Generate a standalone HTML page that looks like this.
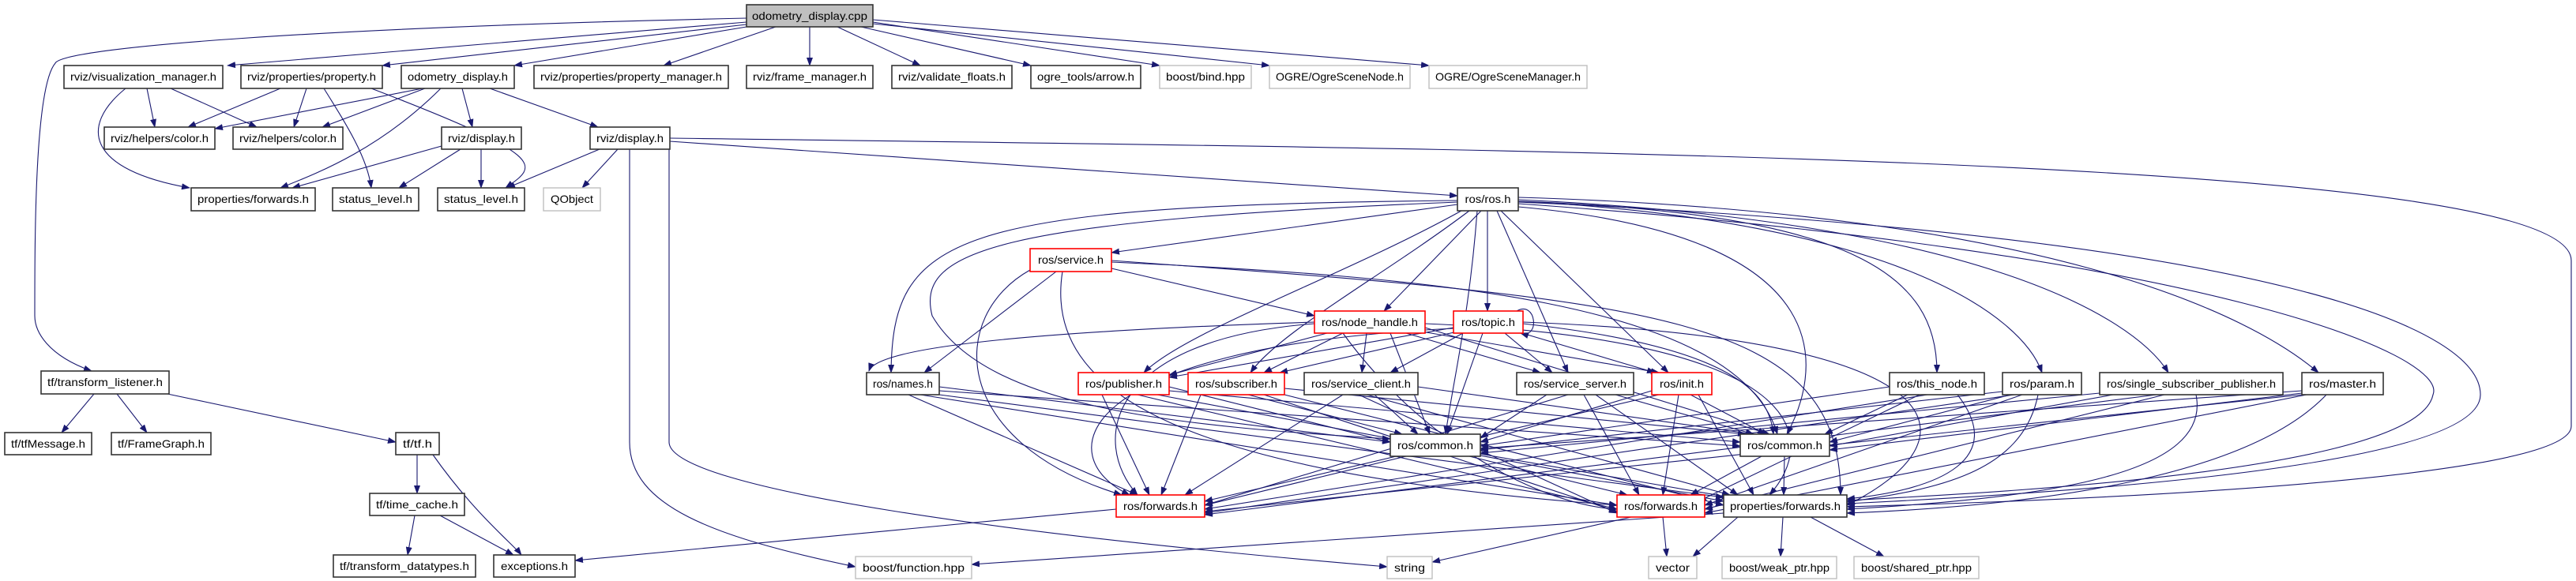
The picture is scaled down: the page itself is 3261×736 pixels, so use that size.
<!DOCTYPE html>
<html><head><meta charset="utf-8"><style>
html,body{margin:0;padding:0;background:#fff;width:3261px;height:736px;overflow:hidden}
svg{display:block}
text{font-family:"Liberation Sans",sans-serif;font-size:14px;fill:#000}
.e{fill:none;stroke:#191970;stroke-width:1.1}
.n{fill:#fff;stroke:#333;stroke-width:1.6}
.r{fill:#fff;stroke:#ff0000;stroke-width:1.6}
.g{fill:#fff;stroke:#bfbfbf;stroke-width:1.4}
</style></head><body>
<svg width="3261" height="736" viewBox="0 0 3261 736" xmlns="http://www.w3.org/2000/svg">
<defs><marker id="a" markerWidth="11" markerHeight="8" refX="10" refY="4" orient="auto" markerUnits="userSpaceOnUse"><path d="M0,0 L11,4 L0,8 z" fill="#191970"/></marker></defs>
<g class="e" marker-end="url(#a)">
<path d="M945 28 L288 83"/><path d="M945 31 L484 83"/><path d="M945 34 L651 83"/><path d="M982 34 L840 83"/><path d="M1025 34 L1025 83"/><path d="M1060 34 L1165 83"/><path d="M1090 34 L1305 83"/><path d="M1105 28 L1468 83"/><path d="M1105 30 L1607 83"/><path d="M1105 25 L1809 83"/>
<path d="M945 23 C400 35 80 60 70 80 C44 110 44 300 44 400 C44 420 60 450 116 470"/>
<path d="M186 112 L196 161"/><path d="M216 112 L325 161"/><path d="M159 112 C100 160 110 215 240 238"/>
<path d="M355 112 L238 161"/><path d="M388 112 L372 161"/><path d="M410 112 C440 160 465 200 470 238"/><path d="M470 112 C700 200 680 210 640 238"/>
<path d="M535 112 L272 163"/><path d="M538 112 L408 161"/><path d="M558 112 C480 190 400 220 355 238"/><path d="M585 112 L598 161"/><path d="M620 112 L757 161"/>
<path d="M559 185 L370 238"/><path d="M583 189 L505 238"/><path d="M609 189 L609 238"/>
<path d="M759 189 L642 238"/><path d="M782 189 L737 238"/><path d="M848 179 L1845 248"/>
<path d="M848 175 C2000 190 3255 200 3255 330 L3255 540 C3255 620 2400 640 2338 642"/>
<path d="M797 189 L797 560 C797 640 900 680 1083 718"/><path d="M847 189 L847 560 C847 620 1300 680 1756 718"/>
<path d="M119 499 L78 548"/><path d="M148 499 L186 548"/><path d="M212 499 L501 560"/>
<path d="M528 576 L528 625"/><path d="M548 576 C600 650 650 690 660 703"/><path d="M525 653 L516 703"/><path d="M557 653 L650 703"/>
<path d="M1413 645 L728 710"/><path d="M2182 650 L1230 715"/><path d="M2065 655 L1813 712"/><path d="M2105 655 L2110 705"/><path d="M2200 655 L2143 705"/><path d="M2257 655 L2254 705"/><path d="M2292 655 L2385 705"/>
<path d="M1845 259 L1407 320"/><path d="M1845 254 C1200 260 1130 300 1128 472"/><path d="M1845 256 C1250 280 1160 320 1180 400 C1250 520 1500 540 1760 556"/>
<path d="M1875 267 L1752 394"/><path d="M1883 267 L1883 394"/><path d="M1850 267 C1700 350 1500 420 1448 472"/><path d="M1860 267 C1750 350 1620 420 1583 472"/><path d="M1895 267 L1985 472"/><path d="M1900 267 L2112 472"/><path d="M1870 267 C1860 400 1840 480 1830 550"/>
<path d="M1922 262 C2350 300 2300 480 2262 550"/><path d="M1922 255 C2350 270 2452 350 2452 472"/><path d="M1922 255 C2400 280 2560 400 2585 472"/><path d="M1922 253 C2500 280 2700 400 2745 472"/><path d="M1922 250 C2600 270 2850 400 2935 472"/>
<path d="M1922 256 C2900 300 3140 420 3140 500 C3140 600 2500 630 2338 638"/><path d="M1922 258 C2800 320 3100 450 3080 500 C3060 600 2500 625 2338 634"/>
<path d="M1407 340 L1664 400"/><path d="M1337 344 L1170 472"/><path d="M1304 342 C1200 400 1200 560 1420 627"/><path d="M1345 344 C1320 500 1500 600 2047 640"/><path d="M1407 332 C1800 350 2200 380 2250 550"/><path d="M1407 330 C2100 380 2330 400 2330 627"/>
<path d="M1680 422 L1480 475"/><path d="M1700 422 L1600 472"/><path d="M1730 422 L1724 472"/><path d="M1780 422 L1950 472"/><path d="M1800 420 L2100 472"/><path d="M1760 422 L1810 550"/><path d="M1804 415 L2240 550"/><path d="M1664 410 C1400 430 1380 560 1440 627"/><path d="M1700 422 C1800 560 1950 640 2047 645"/><path d="M1804 410 C2300 430 2300 560 2240 627"/><path d="M1664 408 C1300 420 1110 440 1100 470"/>
<path d="M1840 415 L1480 478"/><path d="M1845 420 L1620 472"/><path d="M1852 422 L1760 472"/><path d="M1905 422 L1965 472"/><path d="M1920 420 L2095 472"/><path d="M1877 422 L1832 550"/><path d="M1928 410 C2200 440 2240 500 2245 550"/><path d="M1840 416 C1350 440 1330 580 1430 627"/><path d="M1928 408 C2500 430 2500 560 2338 640"/><path d="M1920 394 C1945 380 1950 430 1925 422"/>
<path d="M1189 490 L1760 560"/><path d="M1189 495 L2203 565"/><path d="M1150 500 L1440 627"/><path d="M1165 500 L2047 640"/><path d="M1189 500 L2182 630"/>
<path d="M1395 500 L1455 627"/><path d="M1480 490 L1760 560"/><path d="M1480 495 L2203 560"/><path d="M1440 500 L2047 645"/><path d="M1465 500 L2182 635"/>
<path d="M1520 500 L1470 627"/><path d="M1580 500 L1775 550"/><path d="M1626 492 L2210 550"/><path d="M1600 500 L2047 648"/><path d="M1626 500 L2182 640"/>
<path d="M1700 500 L1500 627"/><path d="M1740 500 L1795 550"/><path d="M1795 490 L2220 550"/><path d="M1720 500 L2047 650"/><path d="M1730 500 L2190 627"/>
<path d="M1958 500 L1874 555"/><path d="M1985 500 L1525 640"/><path d="M2045 500 L2220 550"/><path d="M2005 500 L2075 627"/><path d="M2020 500 L2200 627"/>
<path d="M2091 495 L1874 560"/><path d="M2100 500 L1525 635"/><path d="M2140 500 L2235 550"/><path d="M2125 500 L2105 627"/><path d="M2150 500 L2220 627"/>
<path d="M2392 490 L1874 565"/><path d="M2415 500 L2310 550"/><path d="M2440 500 L1525 645"/><path d="M2430 500 L2150 635"/><path d="M2478 500 C2540 580 2460 620 2338 632"/>
<path d="M2535 496 L1874 570"/><path d="M2545 500 L2316 560"/><path d="M2550 500 L1525 650"/><path d="M2560 500 L2158 640"/><path d="M2580 500 C2560 600 2450 620 2338 636"/>
<path d="M2675 500 L2316 565"/><path d="M2730 500 L1525 652"/><path d="M2740 500 L2158 645"/><path d="M2780 500 C2800 600 2600 630 2338 645"/><path d="M2658 498 L1874 574"/>
<path d="M2914 498 L2316 570"/><path d="M2914 500 L1525 648"/><path d="M2920 500 L2158 650"/><path d="M2945 500 C2850 600 2600 640 2338 650"/><path d="M2914 495 L1874 568"/>
<path d="M1780 578 L1525 640"/><path d="M1860 578 L2060 627"/><path d="M1874 575 L2190 630"/><path d="M2259 578 L2258 627"/><path d="M2230 578 L2140 627"/>
</g>
<g>
<rect x="945" y="6" width="160" height="28" fill="#bfbfbf" stroke="#333" stroke-width="1.6"/>
<rect class="n" x="81" y="83" width="201" height="29"/>
<rect class="n" x="305" y="83" width="179" height="29"/>
<rect class="n" x="508" y="83" width="143" height="29"/>
<rect class="n" x="676" y="83" width="246" height="29"/>
<rect class="n" x="945" y="83" width="160" height="29"/>
<rect class="n" x="1129" y="83" width="152" height="29"/>
<rect class="n" x="1305" y="83" width="139" height="29"/>
<rect class="g" x="1468" y="83" width="116" height="29"/>
<rect class="g" x="1607" y="83" width="178" height="29"/>
<rect class="g" x="1809" y="83" width="200" height="29"/>
<rect class="n" x="132" y="161" width="140" height="28"/>
<rect class="n" x="295" y="161" width="139" height="28"/>
<rect class="n" x="559" y="161" width="101" height="28"/>
<rect class="n" x="747" y="161" width="101" height="28"/>
<rect class="n" x="242" y="238" width="157" height="29"/>
<rect class="n" x="421" y="238" width="109" height="29"/>
<rect class="n" x="554" y="238" width="110" height="29"/>
<rect class="g" x="688" y="238" width="72" height="29"/>
<rect class="n" x="1845" y="238" width="77" height="29"/>
<rect class="r" x="1304" y="315" width="103" height="29"/>
<rect class="r" x="1664" y="394" width="140" height="28"/>
<rect class="r" x="1840" y="394" width="88" height="28"/>
<rect class="n" x="1097" y="472" width="92" height="28"/>
<rect class="r" x="1365" y="472" width="115" height="28"/>
<rect class="r" x="1504" y="472" width="122" height="28"/>
<rect class="n" x="1651" y="472" width="144" height="28"/>
<rect class="n" x="1920" y="472" width="148" height="28"/>
<rect class="r" x="2091" y="472" width="76" height="28"/>
<rect class="n" x="2392" y="472" width="120" height="28"/>
<rect class="n" x="2535" y="472" width="100" height="28"/>
<rect class="n" x="2658" y="472" width="232" height="28"/>
<rect class="n" x="2914" y="472" width="103" height="28"/>
<rect class="n" x="1760" y="550" width="114" height="28"/>
<rect class="n" x="2203" y="550" width="113" height="28"/>
<rect class="r" x="1413" y="627" width="112" height="28"/>
<rect class="r" x="2047" y="627" width="111" height="28"/>
<rect class="n" x="2182" y="627" width="156" height="28"/>
<rect class="n" x="52" y="470" width="162" height="29"/>
<rect class="n" x="6" y="548" width="110" height="28"/>
<rect class="n" x="141" y="548" width="126" height="28"/>
<rect class="n" x="501" y="548" width="55" height="28"/>
<rect class="n" x="468" y="625" width="120" height="28"/>
<rect class="n" x="422" y="703" width="180" height="28"/>
<rect class="n" x="625" y="703" width="103" height="28"/>
<rect class="g" x="1083" y="705" width="147" height="28"/>
<rect class="g" x="1756" y="705" width="57" height="28"/>
<rect class="g" x="2087" y="705" width="61" height="28"/>
<rect class="g" x="2180" y="705" width="145" height="28"/>
<rect class="g" x="2347" y="705" width="158" height="28"/>
</g>
<g transform="translate(0,1)" text-anchor="middle" lengthAdjust="spacingAndGlyphs">
<text x="1025" y="24" textLength="146" lengthAdjust="spacingAndGlyphs">odometry_display.cpp</text>
<text x="181.5" y="101" textLength="185" lengthAdjust="spacingAndGlyphs">rviz/visualization_manager.h</text>
<text x="394.5" y="101" textLength="163" lengthAdjust="spacingAndGlyphs">rviz/properties/property.h</text>
<text x="579.5" y="101" textLength="127" lengthAdjust="spacingAndGlyphs">odometry_display.h</text>
<text x="799" y="101" textLength="230" lengthAdjust="spacingAndGlyphs">rviz/properties/property_manager.h</text>
<text x="1025" y="101" textLength="144" lengthAdjust="spacingAndGlyphs">rviz/frame_manager.h</text>
<text x="1205" y="101" textLength="136" lengthAdjust="spacingAndGlyphs">rviz/validate_floats.h</text>
<text x="1374.5" y="101" textLength="123" lengthAdjust="spacingAndGlyphs">ogre_tools/arrow.h</text>
<text x="1526" y="101" textLength="100" lengthAdjust="spacingAndGlyphs">boost/bind.hpp</text>
<text x="1696" y="101" textLength="162" lengthAdjust="spacingAndGlyphs">OGRE/OgreSceneNode.h</text>
<text x="1909" y="101" textLength="184" lengthAdjust="spacingAndGlyphs">OGRE/OgreSceneManager.h</text>
<text x="202" y="179" textLength="124" lengthAdjust="spacingAndGlyphs">rviz/helpers/color.h</text>
<text x="364.5" y="179" textLength="123" lengthAdjust="spacingAndGlyphs">rviz/helpers/color.h</text>
<text x="609.5" y="179" textLength="85" lengthAdjust="spacingAndGlyphs">rviz/display.h</text>
<text x="797.5" y="179" textLength="85" lengthAdjust="spacingAndGlyphs">rviz/display.h</text>
<text x="320.5" y="256" textLength="141" lengthAdjust="spacingAndGlyphs">properties/forwards.h</text>
<text x="475.5" y="256" textLength="93" lengthAdjust="spacingAndGlyphs">status_level.h</text>
<text x="609" y="256" textLength="94" lengthAdjust="spacingAndGlyphs">status_level.h</text>
<text x="724" y="256" textLength="54" lengthAdjust="spacingAndGlyphs">QObject</text>
<text x="1883.5" y="256" textLength="58" lengthAdjust="spacingAndGlyphs">ros/ros.h</text>
<text x="1355.5" y="333" textLength="83" lengthAdjust="spacingAndGlyphs">ros/service.h</text>
<text x="1734" y="412" textLength="122" lengthAdjust="spacingAndGlyphs">ros/node_handle.h</text>
<text x="1884" y="412" textLength="68" lengthAdjust="spacingAndGlyphs">ros/topic.h</text>
<text x="1143" y="490" textLength="76" lengthAdjust="spacingAndGlyphs">ros/names.h</text>
<text x="1422.5" y="490" textLength="97" lengthAdjust="spacingAndGlyphs">ros/publisher.h</text>
<text x="1565" y="490" textLength="104" lengthAdjust="spacingAndGlyphs">ros/subscriber.h</text>
<text x="1723" y="490" textLength="126" lengthAdjust="spacingAndGlyphs">ros/service_client.h</text>
<text x="1994" y="490" textLength="130" lengthAdjust="spacingAndGlyphs">ros/service_server.h</text>
<text x="2129" y="490" textLength="56" lengthAdjust="spacingAndGlyphs">ros/init.h</text>
<text x="2452" y="490" textLength="102" lengthAdjust="spacingAndGlyphs">ros/this_node.h</text>
<text x="2585" y="490" textLength="82" lengthAdjust="spacingAndGlyphs">ros/param.h</text>
<text x="2774" y="490" textLength="214" lengthAdjust="spacingAndGlyphs">ros/single_subscriber_publisher.h</text>
<text x="2965.5" y="490" textLength="85" lengthAdjust="spacingAndGlyphs">ros/master.h</text>
<text x="1817" y="568" textLength="96" lengthAdjust="spacingAndGlyphs">ros/common.h</text>
<text x="2259.5" y="568" textLength="95" lengthAdjust="spacingAndGlyphs">ros/common.h</text>
<text x="1469" y="645" textLength="94" lengthAdjust="spacingAndGlyphs">ros/forwards.h</text>
<text x="2102.5" y="645" textLength="93" lengthAdjust="spacingAndGlyphs">ros/forwards.h</text>
<text x="2260" y="645" textLength="140" lengthAdjust="spacingAndGlyphs">properties/forwards.h</text>
<text x="133" y="488" textLength="146" lengthAdjust="spacingAndGlyphs">tf/transform_listener.h</text>
<text x="61" y="566" textLength="94" lengthAdjust="spacingAndGlyphs">tf/tfMessage.h</text>
<text x="204" y="566" textLength="110" lengthAdjust="spacingAndGlyphs">tf/FrameGraph.h</text>
<text x="528.5" y="566" textLength="37" lengthAdjust="spacingAndGlyphs">tf/tf.h</text>
<text x="528" y="643" textLength="104" lengthAdjust="spacingAndGlyphs">tf/time_cache.h</text>
<text x="512" y="721" textLength="164" lengthAdjust="spacingAndGlyphs">tf/transform_datatypes.h</text>
<text x="676.5" y="721" textLength="85" lengthAdjust="spacingAndGlyphs">exceptions.h</text>
<text x="1156.5" y="723" textLength="129" lengthAdjust="spacingAndGlyphs">boost/function.hpp</text>
<text x="1784.5" y="723" textLength="39" lengthAdjust="spacingAndGlyphs">string</text>
<text x="2117.5" y="723" textLength="43" lengthAdjust="spacingAndGlyphs">vector</text>
<text x="2252.5" y="723" textLength="127" lengthAdjust="spacingAndGlyphs">boost/weak_ptr.hpp</text>
<text x="2426" y="723" textLength="140" lengthAdjust="spacingAndGlyphs">boost/shared_ptr.hpp</text>
</g>
</svg>
</body></html>
